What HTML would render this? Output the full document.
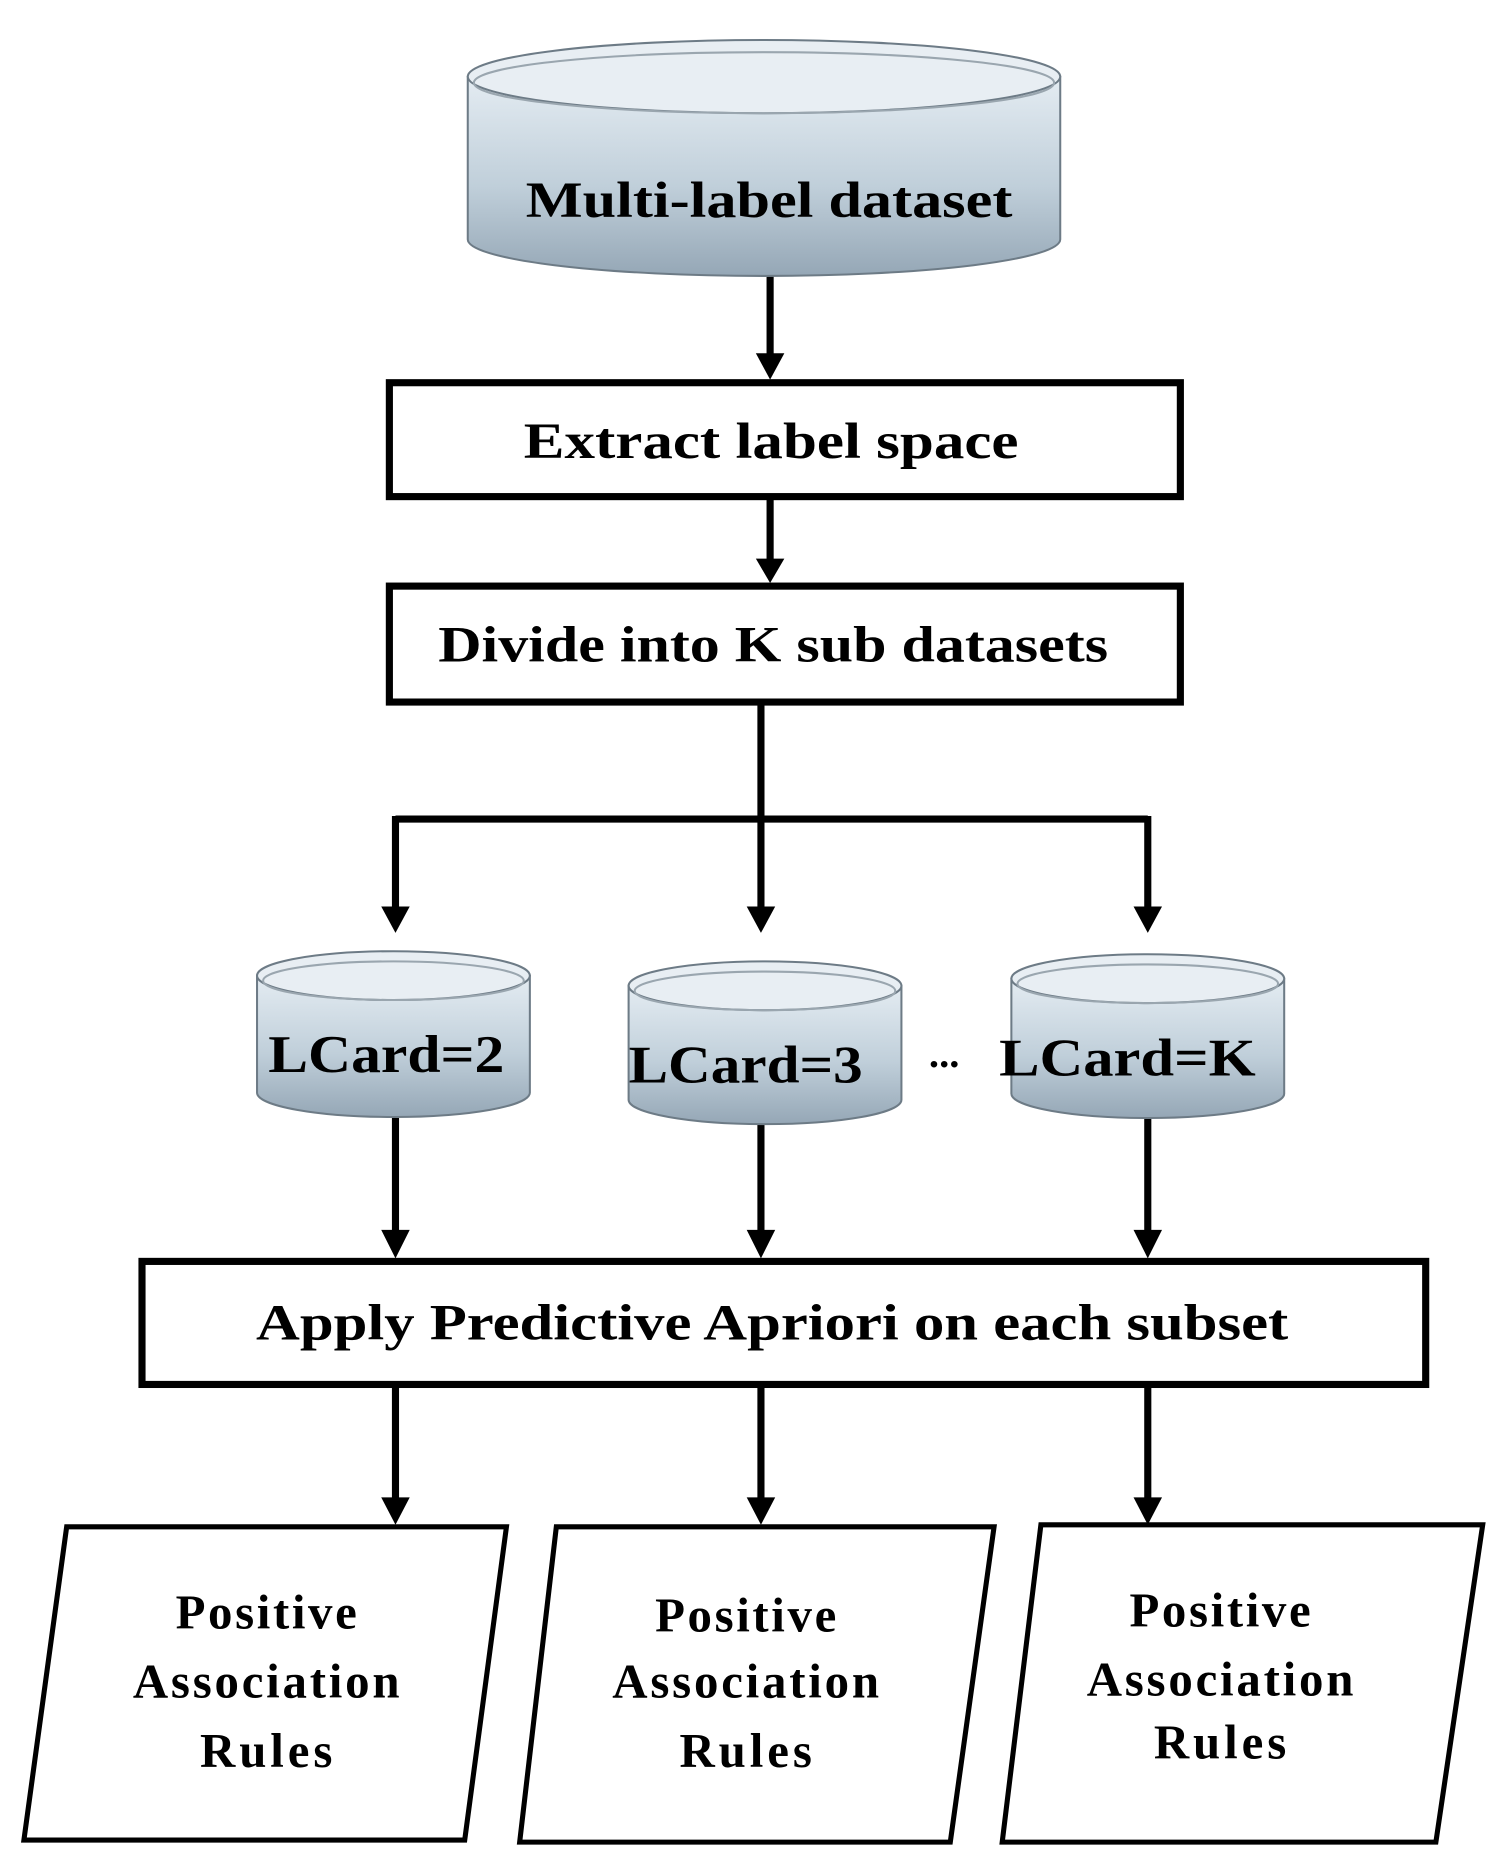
<!DOCTYPE html>
<html><head><meta charset="utf-8"><style>html,body{margin:0;padding:0;background:#fff}svg{display:block}</style></head>
<body>
<svg width="1506" height="1873" viewBox="0 0 1506 1873" xmlns="http://www.w3.org/2000/svg" font-family="Liberation Serif, serif" font-weight="bold">
<defs>
<linearGradient id="cg" x1="0" y1="0" x2="0" y2="1"><stop offset="0" stop-color="#e4ecf2"/><stop offset="0.55" stop-color="#c0cfda"/><stop offset="1" stop-color="#95a7b6"/></linearGradient>
</defs>
<g transform="translate(142,41) scale(1.018,1.017) translate(-142,-41)">
<g fill="none" stroke="#000" stroke-width="7">
<line x1="759" y1="271" x2="759" y2="350"/>
<line x1="759" y1="492" x2="759" y2="552"/>
<polyline points="750,694 750,806"/>
<polyline points="391,806 1130,806"/>
<line x1="391" y1="803" x2="391" y2="895"/>
<line x1="750" y1="806" x2="750" y2="895"/>
<line x1="1130" y1="803" x2="1130" y2="895"/>
<line x1="391" y1="1100" x2="391" y2="1212"/>
<line x1="750" y1="1106" x2="750" y2="1212"/>
<line x1="1130" y1="1100" x2="1130" y2="1212"/>
<line x1="391" y1="1365" x2="391" y2="1475"/>
<line x1="750" y1="1365" x2="750" y2="1475"/>
<line x1="1130" y1="1365" x2="1130" y2="1475"/>
</g>
<g fill="#000">
<path d="M745,348 L773,348 L759,374z"/>
<path d="M745,550 L773,550 L759,574z"/>
<path d="M377,892 L405,892 L391,918z"/>
<path d="M736,892 L764,892 L750,918z"/>
<path d="M1116,892 L1144,892 L1130,918z"/>
<path d="M377,1210 L405,1210 L391,1238z"/>
<path d="M736,1210 L764,1210 L750,1238z"/>
<path d="M1116,1210 L1144,1210 L1130,1238z"/>
<path d="M377,1473 L405,1473 L391,1500z"/>
<path d="M736,1473 L764,1473 L750,1500z"/>
<path d="M1116,1473 L1144,1473 L1130,1500z"/>
</g>
<g stroke="#6d7b86" stroke-width="2">
<path d="M462,76 L462,236 A291,36 0 0 0 1044,236 L1044,76 Z" fill="url(#cg)"/>
<ellipse cx="753" cy="76" rx="291" ry="36" fill="#e8eef3"/>
<ellipse cx="753" cy="82" rx="285" ry="30" fill="none" stroke="#9aa6af"/>
</g>
<text x="758" y="214" font-size="50" text-anchor="middle" textLength="478" lengthAdjust="spacingAndGlyphs">Multi-label dataset</text>
<g fill="#fff" stroke="#000" stroke-width="7">
<rect x="385" y="377" width="777" height="112"/>
<rect x="385" y="577" width="777" height="114"/>
<rect x="142" y="1241" width="1261" height="121"/>
</g>
<text x="760" y="451" font-size="50" text-anchor="middle" textLength="486" lengthAdjust="spacingAndGlyphs">Extract label space</text>
<text x="762" y="651" font-size="50" text-anchor="middle" textLength="658" lengthAdjust="spacingAndGlyphs">Divide into K sub datasets</text>
<text x="761" y="1318" font-size="50" text-anchor="middle" textLength="1014" lengthAdjust="spacingAndGlyphs">Apply Predictive Apriori on each subset</text>
<g stroke="#6d7b86" stroke-width="2">
<path d="M255,960 L255,1075 A134,24 0 0 0 523,1075 L523,960 Z" fill="url(#cg)"/>
<ellipse cx="389" cy="960" rx="134" ry="24" fill="#e8eef3"/>
<ellipse cx="389" cy="965" rx="128" ry="19" fill="none" stroke="#9aa6af"/>
<path d="M620,970 L620,1082 A134,24 0 0 0 888,1082 L888,970 Z" fill="url(#cg)"/>
<ellipse cx="754" cy="970" rx="134" ry="24" fill="#e8eef3"/>
<ellipse cx="754" cy="975" rx="128" ry="19" fill="none" stroke="#9aa6af"/>
<path d="M996,963 L996,1076 A134,24 0 0 0 1264,1076 L1264,963 Z" fill="url(#cg)"/>
<ellipse cx="1130" cy="963" rx="134" ry="24" fill="#e8eef3"/>
<ellipse cx="1130" cy="968" rx="128" ry="19" fill="none" stroke="#9aa6af"/>
</g>
<text x="382" y="1055" font-size="52" text-anchor="middle" textLength="232" lengthAdjust="spacingAndGlyphs">LCard=2</text>
<text x="735" y="1065" font-size="52" text-anchor="middle" textLength="230" lengthAdjust="spacingAndGlyphs">LCard=3</text>
<text x="1110" y="1058" font-size="52" text-anchor="middle" textLength="252" lengthAdjust="spacingAndGlyphs">LCard=K</text>
<text x="930" y="1050" font-size="40" text-anchor="middle">...</text>
<g fill="#fff" stroke="#000" stroke-width="5">
<polygon points="68,1502 500,1502 459,1810 26,1810"/>
<polygon points="549,1502 979,1502 936,1812 513,1812"/>
<polygon points="1025,1500 1459,1500 1413,1812 987,1812"/>
</g>
<g font-size="48" text-anchor="middle" lengthAdjust="spacingAndGlyphs">
<text x="264" y="1602" textLength="178">Positive</text><text x="264" y="1670" textLength="262">Association</text><text x="264" y="1738" textLength="130">Rules</text>
<text x="735" y="1605" textLength="178">Positive</text><text x="735" y="1670" textLength="262">Association</text><text x="735" y="1738" textLength="130">Rules</text>
<text x="1201" y="1600" textLength="178">Positive</text><text x="1201" y="1668" textLength="262">Association</text><text x="1201" y="1730" textLength="130">Rules</text>
</g>
</g>
</svg>
</body></html>
